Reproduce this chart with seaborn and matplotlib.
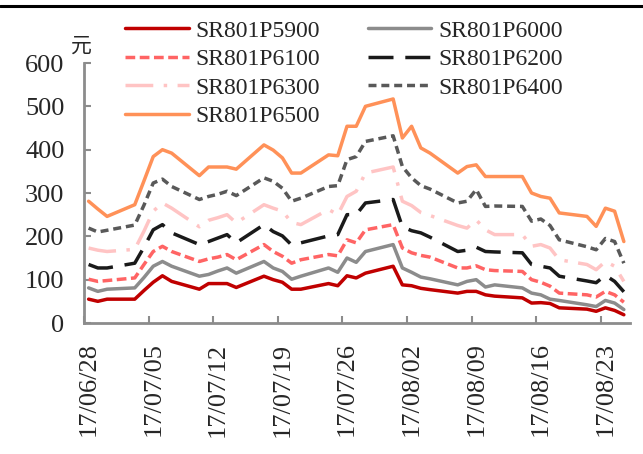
import pandas as pd
import matplotlib.pyplot as plt
import seaborn as sns
from matplotlib.lines import Line2D

# 交易日
dates = ['2017-06-28', '2017-06-29', '2017-06-30',
         '2017-07-03', '2017-07-04', '2017-07-05', '2017-07-06', '2017-07-07',
         '2017-07-10', '2017-07-11', '2017-07-12', '2017-07-13', '2017-07-14',
         '2017-07-17', '2017-07-18', '2017-07-19', '2017-07-20', '2017-07-21',
         '2017-07-24', '2017-07-25', '2017-07-26', '2017-07-27', '2017-07-28',
         '2017-07-31', '2017-08-01', '2017-08-02', '2017-08-03', '2017-08-04',
         '2017-08-07', '2017-08-08', '2017-08-09', '2017-08-10', '2017-08-11',
         '2017-08-14', '2017-08-15', '2017-08-16', '2017-08-17', '2017-08-18',
         '2017-08-21', '2017-08-22', '2017-08-23', '2017-08-24', '2017-08-25']

# 各看跌期权价格（元）
p5900 = [55, 50, 55, 55, 75, 94, 109, 96, 78, 91, 91, 91, 82, 108, 100, 94, 78, 78, 91, 86, 109, 104,
         115, 131, 88, 86, 80, 77, 69, 73, 73, 65, 62, 58, 46, 47, 45, 35, 32, 27, 35, 29, 19]
p6000 = [81, 73, 78, 81, 105, 131, 142, 131, 108, 112, 120, 127, 115, 142, 127, 119, 101, 108, 127, 117, 150, 140,
         165, 181, 127, 117, 106, 102, 88, 96, 100, 83, 88, 81, 69, 65, 55, 52, 42, 38, 52, 46, 31]
p6100 = [101, 96, 98, 104, 135, 165, 177, 165, 142, 148, 152, 158, 146, 181, 165, 154, 138, 146, 158, 155, 192, 185,
         215, 227, 173, 162, 156, 152, 127, 127, 132, 123, 121, 119, 100, 94, 85, 69, 65, 60, 73, 65, 48]
p6200 = [135, 127, 127, 138, 175, 215, 227, 208, 181, 188, 196, 204, 185, 227, 211, 201, 180, 185, 201, 204, 250, 250,
         277, 285, 222, 213, 208, 198, 165, 168, 175, 165, 164, 162, 135, 131, 127, 108, 97, 93, 110, 96, 72]
p6300 = [173, 168, 165, 170, 212, 258, 277, 265, 222, 237, 243, 250, 231, 273, 265, 258, 232, 227, 262, 250, 292, 304,
         346, 360, 281, 271, 255, 248, 225, 219, 238, 215, 204, 204, 177, 181, 173, 146, 135, 123, 142, 131, 96]
p6400 = [219, 210, 214, 226, 272, 323, 332, 315, 285, 292, 297, 304, 294, 335, 327, 311, 281, 288, 315, 317, 377, 384,
         419, 432, 361, 335, 317, 309, 277, 281, 308, 269, 270, 269, 235, 240, 225, 192, 176, 169, 195, 188, 138]
p6500 = [281, 263, 246, 273, 328, 384, 400, 392, 340, 360, 360, 360, 355, 411, 399, 381, 346, 346, 388, 386, 454, 454,
         500, 517, 427, 454, 404, 392, 346, 361, 365, 338, 338, 338, 300, 292, 288, 254, 246, 223, 265, 258, 188]

names = ['SR801P5900', 'SR801P6000', 'SR801P6100', 'SR801P6200', 'SR801P6300', 'SR801P6400', 'SR801P6500']
series = [p5900, p6000, p6100, p6200, p6300, p6400, p6500]

tick_labels = ['17/06/28', '17/07/05', '17/07/12', '17/07/19', '17/07/26',
               '17/08/02', '17/08/09', '17/08/16', '17/08/23']

colors = {'SR801P5900': '#C00000', 'SR801P6000': '#8C8C8C', 'SR801P6100': '#FF6464',
          'SR801P6200': '#1A1A1A', 'SR801P6300': '#FFC4C4', 'SR801P6400': '#595959',
          'SR801P6500': '#FF9158'}
dash_map = {'SR801P5900': '', 'SR801P6000': '', 'SR801P6100': (2.8, 1.3),
            'SR801P6200': (7.2, 3.4), 'SR801P6300': (8, 3, 1, 3),
            'SR801P6400': (2.3, 1.4), 'SR801P6500': ''}

df = pd.concat([pd.DataFrame({'date': pd.to_datetime(dates), 'value': v, 'contract': n})
                for n, v in zip(names, series)], ignore_index=True)

sns.set_style('ticks')
plt.rcParams['font.family'] = ['Liberation Serif', 'Noto Sans CJK SC']

fig = plt.figure(figsize=(6.43, 4.54), dpi=100)
ax = fig.add_axes([84 / 643, 1 - 323 / 454, 546 / 643, 260 / 454])

sns.lineplot(data=df, x='date', y='value', hue='contract', style='contract',
             hue_order=names, style_order=names, palette=colors, dashes=dash_map,
             linewidth=2.5, ax=ax)

handles, labels = ax.get_legend_handles_labels()
ax.get_legend().remove()
for ln in list(ax.lines) + list(handles):
    ln.set_dash_capstyle('butt')
    ln.set_solid_joinstyle('round')

# 坐标轴
ax.set_ylim(0, 600)
ax.set_yticks(range(0, 601, 100))
ax.set_xlim(pd.Timestamp('2017-06-27 12:00'), pd.Timestamp('2017-08-25 16:00'))
tick_pos = pd.to_datetime(dates[::5])
ax.set_xticks(tick_pos)
ax.set_xticklabels(tick_labels, rotation=90)
ax.set_xticks(tick_pos - pd.Timedelta(hours=12), minor=True)
ax.set_xlabel('')
ax.set_ylabel('')

sns.despine(ax=ax)
for side in ['left', 'bottom']:
    ax.spines[side].set_color('#8C8C8C')
    ax.spines[side].set_linewidth(2)
ax.tick_params(axis='x', which='major', length=0, pad=14, labelsize=19)
ax.tick_params(axis='x', which='minor', direction='in', length=5, width=1.5, color='#8C8C8C')
ax.tick_params(axis='y', direction='in', length=5, width=1.5, color='#8C8C8C', pad=14, labelsize=19)

# 图例
order = [0, 2, 4, 6, 1, 3, 5]
fig.legend([handles[i] for i in order], [labels[i] for i in order], ncol=2,
           loc='upper left', bbox_to_anchor=(125 / 643, 1 - 20 / 454), frameon=False,
           fontsize=17, handlelength=2.7, handletextpad=0.3, columnspacing=2.0,
           labelspacing=0.3, borderpad=0, borderaxespad=0)

fig.text(81 / 643, 1 - 46 / 454, '元', family='Noto Sans CJK SC', fontsize=15,
         ha='center', va='center')

# 顶部黑线
fig.add_artist(Line2D([0, 1], [1 - 6 / 454, 1 - 6 / 454], transform=fig.transFigure,
                      color='black', linewidth=2.2))

plt.savefig('out.png', dpi=100)
